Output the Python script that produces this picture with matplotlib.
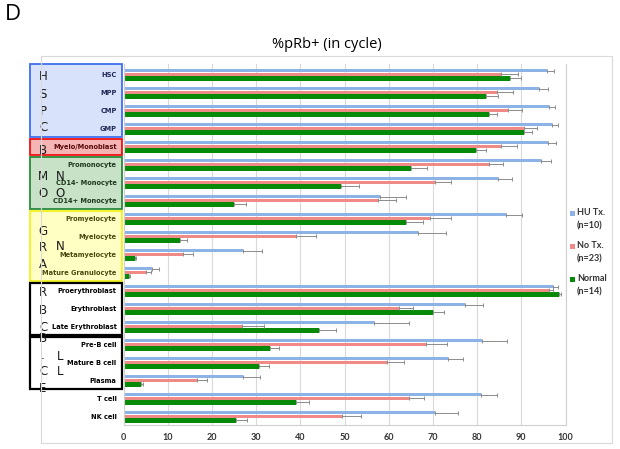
import matplotlib
matplotlib.use("Agg")
import matplotlib.pyplot as plt
import numpy as np
from matplotlib import font_manager
from matplotlib.patches import Rectangle

# narrow bold font for the row labels, if one is installed
label_font = {"family": "Lato", "size": 5.6}
for f in font_manager.fontManager.ttflist:
    nm = f.name.lower()
    if ("narrow" in nm or "condensed" in nm or "condensed" in str(f.stretch)) \
            and f.weight in ("bold", 700) and "mono" not in nm and "serif" not in nm:
        label_font = {"fname": f.fname, "size": 6.4 if "narrow" in nm else 5.3}
        break
plt.rcParams["font.family"] = ["Lato", "DejaVu Sans"]

cells = ["HSC", "MPP", "CMP", "GMP", "Myelo/Monoblast", "Promonocyte",
         "CD14- Monocyte", "CD14+ Monocyte", "Promyelocyte", "Myelocyte",
         "Metamyelocyte", "Mature Granulocyte", "Proerythroblast", "Erythroblast",
         "Late Erythroblast", "Pre-B cell", "Mature B cell", "Plasma", "T cell", "NK cell"]
hu = [95.8, 94.0, 96.3, 96.9, 96.0, 94.4, 84.8, 58.1, 86.5, 66.7,
      27.1, 6.5, 97.1, 77.2, 56.6, 81.1, 73.4, 27.1, 80.9, 70.4]
hu_err = [1.5, 2.0, 1.4, 1.3, 1.8, 2.3, 3.0, 5.9, 3.7, 6.3,
          4.2, 1.6, 1.3, 4.1, 7.9, 5.6, 3.5, 3.7, 3.5, 5.3]
notx = [85.4, 84.6, 86.9, 90.7, 85.4, 82.7, 70.4, 57.5, 69.4, 39.0,
        13.5, 5.2, 96.2, 62.4, 26.7, 68.5, 59.6, 16.6, 64.5, 49.5]
notx_err = [3.8, 3.5, 3.3, 2.9, 3.6, 3.2, 3.7, 4.2, 4.7, 4.5,
            2.3, 1.0, 0.9, 3.0, 5.0, 4.8, 3.8, 2.4, 3.5, 4.3]
normal = [87.5, 82.0, 82.8, 90.6, 79.7, 65.1, 49.2, 25.1, 63.9, 12.8,
          2.6, 1.2, 98.6, 70.0, 44.2, 33.2, 30.6, 3.9, 39.0, 25.5]
normal_err = [2.5, 2.7, 1.7, 1.9, 2.3, 3.5, 4.1, 2.6, 3.8, 1.5,
              0.3, 0.3, 0.3, 2.5, 3.9, 1.9, 2.4, 0.4, 2.9, 2.4]
series_names = ["HU Tx.\n(n=10)", "No Tx.\n(n=23)", "Normal\n(n=14)"]
series_colors = ["#8DB3E6", "#F08A86", "#078A07"]

# group boxes: (first row, last row, fill, edge, label colour)
groups = [(0, 3, "#D9E2FB", "#3F6FF0", "#1F2A55"),
          (4, 4, "#F6B5B5", "#F01010", "#5A0A0A"),
          (5, 7, "#C8E2C8", "#2A8A3A", "#1E3A1E"),
          (8, 11, "#FFFFC4", "#F2F21A", "#4A4A10"),
          (12, 14, "white", "black", "black"),
          (15, 17, "white", "black", "black")]
# letters written inside the boxes: (text, column, row position)
letters = [("H", 0, 0.12), ("S", 0, 1.1), ("P", 0, 2.08), ("C", 0, 2.96),
           ("B", 0, 4.2),
           ("M", 0, 5.68), ("N", 1, 5.68), ("O", 0, 6.6), ("O", 1, 6.6),
           ("G", 0, 8.73), ("R", 0, 9.62), ("N", 1, 9.55), ("A", 0, 10.58),
           ("R", 0, 12.14), ("B", 0, 13.12), ("C", 0, 14.04),
           ("B", 0, 14.66), (".", 0, 15.62), ("L", 1, 15.65), ("C", 0, 16.53),
           ("L", 1, 16.53), ("E", 0, 17.47)]

W, H = 620, 449
fig = plt.figure(figsize=(6.2, 4.49), dpi=100)
ax = fig.add_axes([123.5 / W, 1 - 424.5 / H, 442 / W, 360.5 / H])

y = np.arange(len(cells))
off = [-0.21, 0.0, 0.22]
hts = [0.2, 0.2, 0.24]
vals = [hu, notx, normal]
errs = [hu_err, notx_err, normal_err]
for k in range(3):
    e = np.array(errs[k])
    ax.barh(y + off[k], vals[k], height=hts[k], color=series_colors[k], zorder=2,
            xerr=[np.zeros_like(e), e],
            error_kw=dict(ecolor="#8C8C8C", elinewidth=0.7, capsize=1.6, capthick=0.7))

ax.set_xlim(0, 100)
ax.set_ylim(19.45, -0.58)
ax.set_xticks(np.arange(0, 101, 10))
ax.grid(axis="x", color="#D9D9D9", lw=0.8)
ax.set_axisbelow(True)
ax.tick_params(axis="x", length=0, pad=6, labelsize=6.5, labelcolor="#333333")
for t in ax.get_xticklabels():
    t.set_fontweight("bold")
ax.set_yticks(y)
lprop = font_manager.FontProperties(weight="bold", **label_font)
ax.set_yticklabels(cells, fontproperties=lprop)
ax.tick_params(axis="y", length=0, pad=5)
row_color = {}
for g in groups:
    for r in range(g[0], g[1] + 1):
        row_color[r] = g[4]
for i, t in enumerate(ax.get_yticklabels()):
    t.set_color(row_color.get(i, "black"))
for s in ["left", "bottom", "right"]:
    ax.spines[s].set_color("#D0D0D0")
    ax.spines[s].set_linewidth(0.8)
ax.spines["top"].set_visible(False)

tr = ax.get_yaxis_transform()
x0, x1 = (30 - 123.5) / 442, (121.7 - 123.5) / 442
for first, last, fc, ec, _ in groups:
    top = first - 0.4 if first else -0.57
    bot = last + 0.47
    lw = 1.6 if ec == "black" else 1.3
    ax.add_patch(Rectangle((x0, top), x1 - x0, bot - top, transform=tr, fc=fc, ec=ec,
                           lw=lw, clip_on=False, zorder=0.2))
cols = [(43 - 123.5) / 442, (60 - 123.5) / 442]
for txt, c, yy in letters:
    ax.text(cols[c], yy, txt, transform=tr, ha="center", va="center", fontsize=8.5,
            color="#1A1A1A", family="DejaVu Sans", zorder=3, clip_on=False)

# outer chart frame
fig.patches.append(Rectangle((41 / W, 1 - 443 / H), 571 / W, 387 / H,
                             transform=fig.transFigure, fill=False, ec="#D9D9D9", lw=0.8))

fig.text(327 / W, 1 - 44 / H, "%pRb+ (in cycle)", ha="center", va="center",
         fontsize=10.5, family=["Open Sans", "DejaVu Sans"])
fig.text(5 / W, 1 - 15 / H, "D", ha="left", va="center", fontsize=16,
         family=["Open Sans", "DejaVu Sans"])

# legend, marker level with first line
for k, name in enumerate(series_names):
    ytop = 213 + k * 33
    fig.patches.append(Rectangle((569.5 / W, 1 - (ytop + 2.5) / H), 5 / W, 5 / H,
                                 transform=fig.transFigure, fc=series_colors[k], ec="none"))
    fig.text(577 / W, 1 - (ytop - 5) / H, name, ha="left", va="top", fontsize=6.5,
             fontweight="bold", linespacing=1.6, color="#333333")

fig.savefig("out.png", dpi=100)
